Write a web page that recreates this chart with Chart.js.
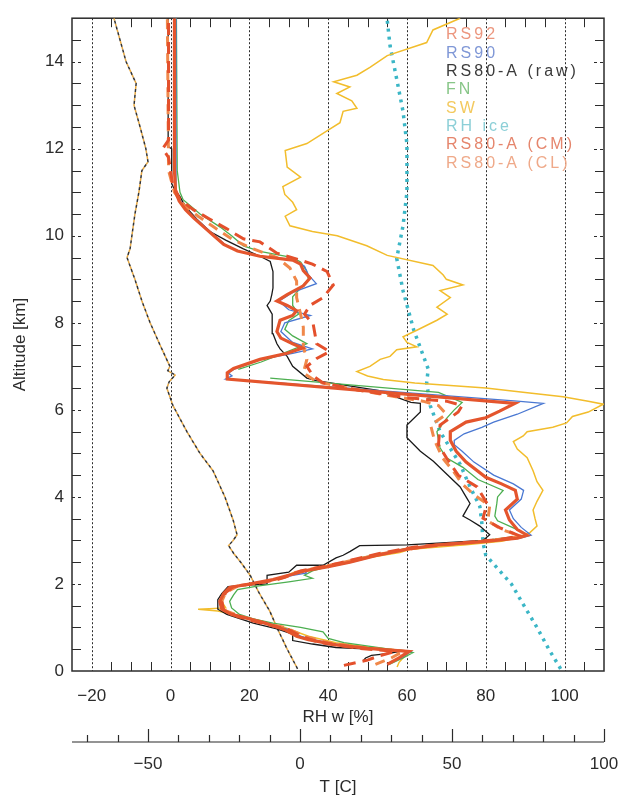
<!DOCTYPE html>
<html>
<head>
<meta charset="utf-8">
<title>RH profiles</title>
<script src="https://cdn.jsdelivr.net/npm/chart.js@4.4.1/dist/chart.umd.min.js"></script>
<style>
  html, body { margin: 0; padding: 0; background: #fff; }
</style>
</head>
<body>
<canvas id="rhChart" width="625" height="798"></canvas>
<script>
// ------- DATA -------
// axis ticks
const rhTicks = [-20, 0, 20, 40, 60, 80, 100];
const altTicks = [0, 2, 4, 6, 8, 10, 12, 14];
const tempTicks = [-50, 0, 50, 100];

const seriesNames = ['RS92', 'RS90', 'RS80-A (raw)', 'FN', 'SW', 'RH ice', 'RS80-A (CM)', 'RS80-A (CL)'];

// profiles as [altitude km, RH %]
const rs92 = [[0.15,55],[0.3,58],[0.45,60.5],[0.52,50],[0.6,42],[0.72,35],[0.8,32],[0.95,29],[1.1,24],[1.2,20],[1.3,15.5],[1.42,13],[1.6,12.5],[1.78,13.5],[1.92,15],[2.0,20],[2.1,26],[2.2,30],[2.3,34],[2.4,40],[2.5,45.5],[2.65,52],[2.8,60],[2.9,68],[2.98,80],[3.05,88],[3.12,90.5],[3.25,88],[3.47,86],[3.7,85],[3.95,88],[4.15,87.5],[4.3,84],[4.45,80],[4.8,75],[5.05,72.5],[5.3,71],[5.5,71],[5.72,75],[5.82,80],[5.97,83.5],[6.15,87.4],[6.71,14.4],[6.85,14.4],[6.95,16],[7.16,22.7],[7.3,29.6],[7.42,33.5],[7.52,31],[7.65,28],[7.8,27],[8.06,27.8],[8.17,31],[8.28,32],[8.4,29.6],[8.5,27],[8.65,29.6],[8.85,33.7],[9.03,35.4],[9.2,33.7],[9.35,33],[9.44,31],[9.53,22.7],[9.65,17],[9.8,13.5],[10.0,11],[10.2,8.5],[10.4,6],[10.6,3.8],[10.8,2.2],[11.0,1.3],[11.5,1.0],[13,1.0],[15,1.0]];

const rs90 = [[0.15,55],[0.3,58.5],[0.45,61],[0.52,50.5],[0.6,43],[0.72,36],[0.8,33],[0.95,30],[1.1,24.5],[1.2,20],[1.3,15.5],[1.42,13.2],[1.6,12.8],[1.78,13.8],[1.92,15.2],[2.0,20.5],[2.1,26.5],[2.2,31],[2.25,34.5],[2.3,34],[2.4,40.5],[2.5,46],[2.65,52.5],[2.8,60.5],[2.9,68.5],[2.98,80.5],[3.05,88.5],[3.12,91.5],[3.3,89],[3.5,87],[3.7,86],[3.95,89],[4.15,89.6],[4.3,87],[4.5,82],[4.8,77],[5.05,74],[5.2,72],[5.3,72],[5.45,74.5],[5.6,79],[5.72,82],[5.9,88],[6.15,94.6],[6.2,88],[6.71,14],[6.78,15.6],[6.85,14.6],[6.95,16.5],[7.16,23],[7.3,31],[7.4,36],[7.55,31],[7.8,28],[8.0,29],[8.17,35.5],[8.3,30],[8.5,27.5],[8.7,31],[8.9,37],[9.1,35],[9.3,34],[9.45,31],[9.53,22.7],[9.65,17.2],[9.8,13.8],[10.0,11.3],[10.2,8.8],[10.4,6.3],[10.6,4],[10.8,2.5],[11.0,1.6],[11.5,1.4],[13,1.4],[15,1.4]];

const rs80raw = [[0.25,49],[0.3,49.5],[0.36,51],[0.4,55],[0.47,59.5],[0.54,42],[0.62,36],[0.7,31],[0.85,31],[0.97,27],[1.1,21],[1.3,14.3],[1.42,12],[1.64,12],[1.78,13],[1.94,14.6],[2.0,24.5],[2.2,24.5],[2.27,30],[2.43,32],[2.43,38.7],[2.6,42],[2.66,43.8],[2.75,45.6],[2.88,48],[2.9,60],[2.95,70],[3.0,79.3],[3.13,81],[3.33,78.5],[3.47,76],[3.56,74.2],[3.85,76],[4.0,75],[4.23,73.5],[4.6,69.2],[4.82,66.7],[5.05,63.4],[5.36,60],[5.65,60],[5.95,63.4],[6.15,63.4],[6.17,61],[6.37,55],[6.44,53],[6.67,37],[6.73,34.6],[7.0,31],[7.23,29.6],[7.4,27.8],[7.52,27],[7.75,26],[8.2,25.8],[8.4,24.5],[8.5,25.3],[8.65,25.7],[8.8,26],[9.18,26],[9.41,25.3],[9.53,22.7],[9.7,18.5],[9.9,14],[10.1,10],[10.38,6.7],[10.6,4.5],[10.77,3.2],[10.9,2.4],[11.1,0.8],[11.2,0.3],[12.0,0.3],[12.05,-0.6],[15,-0.6]];

const fn = [[0.15,55.5],[0.3,59],[0.42,61.5],[0.55,52],[0.65,44],[0.75,40],[0.9,38.7],[1.0,33],[1.1,26],[1.2,21],[1.3,17.5],[1.45,15.5],[1.6,15],[1.75,16],[1.87,17],[1.95,22],[2.05,30],[2.13,36],[2.2,34],[2.3,36],[2.45,42],[2.6,48],[2.8,59],[2.9,68],[3.0,80],[3.13,90.5],[3.29,87],[3.45,83],[3.56,82.3],[3.85,82.8],[4.0,83],[4.15,84.4],[4.4,78],[4.68,74.2],[4.9,70],[5.13,68.4],[5.5,67.6],[5.8,70],[6.0,72],[6.17,74],[6.4,68],[6.73,25.3],null,[6.93,17.2],[7.1,23],[7.35,30],[7.52,34.6],[7.7,31],[7.85,29],[8.05,30],[8.2,32.5],[8.4,31],[8.6,31],[8.8,33],[9.0,35],[9.2,34.5],[9.4,33],[9.5,31],[9.64,22.7],[9.77,18.5],[10.0,15.5],[10.2,12.6],[10.5,7.5],[10.83,3.2],[11.0,2.4],[11.5,1.7],[15,1.5]];

const sw = [[0.09,57.5],[0.2,58],[0.3,59],[0.45,61],[0.55,50],[0.65,42],[0.8,35],[1.0,29],[1.15,23],[1.3,16],[1.38,12],[1.42,7],[1.45,14],[1.6,13],[1.8,14],[1.95,16],[2.0,21],[2.1,27],[2.25,31],[2.35,36],[2.5,44],[2.6,50],[2.72,58.2],[2.8,61],[2.9,75],[2.98,84],[3.08,89],[3.18,91.2],[3.33,93],[3.5,92.5],[3.7,92],[3.9,93],[4.15,94.5],[4.35,93],[4.6,92],[4.9,90.5],[5.1,88],[5.27,87],[5.4,89.5],[5.5,90.5],[5.6,97],[5.7,100.5],[5.85,102],[5.95,106],[6.13,109.8],[6.2,106],[6.3,99.6],[6.4,90],[6.5,80],[6.62,62],[6.7,54],[6.78,50],[6.88,47.3],[7.0,50.6],[7.16,53.2],[7.23,55.7],[7.38,57.4],[7.45,62.5],[7.55,60],[7.68,59],[7.83,62.5],[8.06,67.6],[8.2,70.2],[8.36,67.6],[8.58,71],[8.74,68.4],[8.87,74.2],[9.0,70],[9.1,69.2],[9.32,66.6],[9.55,55],[9.77,49.8],[10.0,42.3],[10.1,36],[10.23,30.3],[10.45,29.1],[10.6,32],[10.77,31],[10.95,29],[11.13,28.5],[11.35,33],[11.58,29.6],[11.96,29.1],[12.12,34.6],[12.41,39.7],[12.6,43],[12.86,43.8],[12.93,47.3],[13.1,46],[13.27,42.2],[13.42,45.5],[13.54,41.4],[13.69,47.3],[13.87,50.6],[14.14,55],[14.44,65],[14.73,66.6],[15.0,73.5]];

const rhIce = [[0.05,99],[0.5,96],[1.0,93],[1.5,89.7],[2.0,86.5],[2.66,80],[2.95,79.3],[3.4,79],[3.78,78.5],[4.23,76],[4.75,73.5],[5.5,68.4],[6.1,65.9],[6.62,65],[6.94,65.4],[7.84,61.7],[8.74,59],[9.48,57.4],[10.23,59],[11.0,60],[11.73,60],[12.1,60],[12.86,59],[13.6,57.4],[14.37,55.7],[14.95,55]];

const rs80cm = [[0.13,44],[0.25,50],[0.35,53],[0.45,57],[0.52,48],[0.65,38],[0.8,33],[0.95,30],[1.1,23],[1.25,17],[1.4,13.5],[1.6,13],[1.8,14],[1.95,16],[2.0,21],[2.1,27],[2.2,30.5],[2.3,33],[2.4,39],[2.55,46],[2.7,53],[2.85,62],[2.95,75],[3.03,84],[3.1,88.7],[3.29,83.6],[3.51,79.3],[3.85,80.3],[4.23,77.8],[4.5,73],[4.9,70],[5.2,68],[5.65,68.4],[5.95,73],[6.1,74],[6.2,70],[6.28,60],[6.45,48],[6.62,38.7],[6.78,36.2],[7.0,34.6],[7.18,37.1],[7.34,40.4],[7.52,37.1],[7.97,36.2],[8.2,34],[8.4,35.4],[8.58,38.7],[8.87,41.3],[9.18,39.7],[9.35,36],[9.44,33],[9.6,27],[9.86,22.7],[9.93,18.5],[10.16,14.3],[10.38,10],[10.6,5.8],[10.83,2.4],[11.2,0.5],[11.8,-0.5],[12.0,-2],[12.2,-0.5],[15,-0.5]];

const rs80cl = [[0.15,52],[0.3,56],[0.45,59],[0.55,48],[0.65,40],[0.8,34],[1.0,29],[1.1,24],[1.25,18],[1.4,13.5],[1.6,13],[1.8,14],[1.95,17],[2.05,24],[2.15,29],[2.25,31],[2.35,36],[2.5,44],[2.7,54],[2.85,64],[2.95,76],[3.05,86],[3.1,89],[3.25,84],[3.45,80.5],[3.8,81],[4.05,77],[4.3,74],[4.6,71.7],[4.9,69],[5.3,67],[5.65,66],[5.9,70],[6.1,68],[6.2,64],[6.35,54],[6.5,45],[6.65,37],[6.85,33.7],[7.16,34.6],[7.45,33.7],[7.9,33.7],[8.2,33],[8.58,32],[8.96,32],[9.26,30.3],[9.5,27],[9.7,21],[9.9,16],[10.2,11],[10.45,7],[10.7,3.5],[11.0,1],[11.5,-0.5],[15,-0.8]];

// temperature profile as [altitude km, T C]
const temperature = [[0.05,-0.8],[0.5,-4.2],[1.0,-7.6],[1.37,-9.9],[1.8,-13.5],[2.2,-16.4],[2.5,-19.5],[2.7,-21.8],[2.88,-23.5],[3.0,-22],[3.13,-20.7],[3.47,-22],[4.0,-24.7],[4.6,-28.6],[5.0,-32.9],[5.5,-37.2],[6.1,-41.8],[6.5,-43.8],[6.65,-43],[6.8,-41.1],[6.9,-43.5],[7.0,-42.8],[7.5,-46.1],[8.0,-49.3],[8.5,-52],[9.0,-54.3],[9.5,-56.9],[9.7,-55.9],[10.0,-55.3],[10.5,-54.3],[11.0,-53],[11.5,-52],[11.7,-50],[12.0,-50.7],[12.5,-52.6],[13.0,-54.6],[13.5,-53.9],[14.0,-57.2],[14.5,-59.2],[15.0,-61.2]];

// ------- HELPERS -------
const FONT = '"Liberation Sans", Arial, sans-serif';
const INK = '#2b2b2b';

function toPts(list) {
    return list.map(p => p ? { x: p[1], y: p[0] } : { x: null, y: null });
}

function fmt(v) {
    return v < 0 ? '\u2212' + Math.abs(v) : String(v);
}

function profile(name, list, color, legendColor, width, dash, order) {
    return {
        label: name,
        data: toPts(list),
        borderColor: color,
        borderWidth: width,
        borderDash: dash || [],
        showLine: true,
        pointRadius: 0,
        fill: false,
        spanGaps: false,
        order: order,
        legendColor: legendColor
    };
}

// frame, grid, minor ticks, temperature axis and text legend
const profileFrame = {
    id: 'profileFrame',
    beforeDraw(chart) {
        const ctx = chart.ctx;
        ctx.save();
        ctx.fillStyle = '#fff';
        ctx.fillRect(0, 0, chart.width, chart.height);
        ctx.restore();
    },
    beforeDatasetsDraw(chart) {
        const { ctx, chartArea: a, scales: { x, y } } = chart;
        const seg = (x1, y1, x2, y2) => { ctx.beginPath(); ctx.moveTo(x1, y1); ctx.lineTo(x2, y2); ctx.stroke(); };
        ctx.save();
        ctx.strokeStyle = INK;
        ctx.lineWidth = 1;

        // dotted verticals at the labelled RH values
        ctx.setLineDash([2, 2]);
        rhTicks.forEach(v => {
            const px = Math.round(x.getPixelForValue(v)) + 0.5;
            seg(px, a.top, px, a.bottom);
        });

        // major altitude ticks are short dashed marks
        ctx.setLineDash([3, 3]);
        altTicks.forEach(v => {
            if (v === 0) return;
            const py = Math.round(y.getPixelForValue(v)) + 0.5;
            seg(a.left, py, a.left + 10, py);
            seg(a.right - 10, py, a.right, py);
        });
        ctx.setLineDash([]);

        // minor ticks
        for (let v = -20; v < 110; v += 5) {
            if (v % 20 === 0) continue;
            const px = Math.round(x.getPixelForValue(v)) + 0.5;
            seg(px, a.bottom, px, a.bottom - 9);
            seg(px, a.top, px, a.top + 9);
        }
        for (let v = 0.5; v < 15; v += 0.5) {
            if (v % 2 === 0) continue;
            const py = Math.round(y.getPixelForValue(v)) + 0.5;
            seg(a.left, py, a.left + 9, py);
            seg(a.right - 9, py, a.right, py);
        }

        ctx.lineWidth = 1.5;
        ctx.strokeRect(a.left, a.top, a.right - a.left, a.bottom - a.top);
        ctx.restore();
    },
    afterDraw(chart) {
        const { ctx, chartArea: a } = chart;
        const t = chart.scales.x2;
        const seg = (x1, y1, x2, y2) => { ctx.beginPath(); ctx.moveTo(x1, y1); ctx.lineTo(x2, y2); ctx.stroke(); };
        const base = 742;

        ctx.save();
        // T axis
        ctx.strokeStyle = INK;
        ctx.lineWidth = 1.2;
        seg(a.left, base, a.right, base);
        for (let v = -70; v <= 100; v += 10) {
            const px = Math.round(t.getPixelForValue(v)) + 0.5;
            seg(px, base, px, base - (v % 50 === 0 ? 13 : 7));
        }
        ctx.fillStyle = INK;
        ctx.font = '17px ' + FONT;
        ctx.textAlign = 'center';
        ctx.textBaseline = 'middle';
        tempTicks.forEach(v => ctx.fillText(fmt(v), t.getPixelForValue(v), 764));
        ctx.fillText('T [C]', (a.left + a.right) / 2, 787);

        // legend: coloured names only
        ctx.font = '16px ' + FONT;
        ctx.textAlign = 'left';
        ctx.letterSpacing = '3px';
        let row = 0;
        chart.data.datasets.forEach(ds => {
            if (!ds.legendColor) return;
            ctx.fillStyle = ds.legendColor;
            ctx.fillText(ds.label, 446, 35 + row * 18.3);
            row++;
        });
        ctx.restore();
    }
};

// ------- CHART -------
const datasets = [
    profile(seriesNames[0], rs92, '#e4552d', '#ec967e', 3.2, [], 0),
    profile(seriesNames[1], rs90, '#4a78d2', '#7f97d6', 1.3, [], 3),
    profile(seriesNames[2], rs80raw, '#1a1a1a', '#3a3a3a', 1.3, [], 5),
    profile(seriesNames[3], fn, '#4caf50', '#88c688', 1.3, [], 4),
    profile(seriesNames[4], sw, '#f2bd2c', '#f3c95e', 1.5, [], 6),
    profile(seriesNames[5], rhIce, '#3bb6c6', '#8ccfd7', 3.5, [3, 5], 7),
    profile(seriesNames[6], rs80cm, '#e4502c', '#e5856c', 3, [12, 7], 1),
    profile(seriesNames[7], rs80cl, '#f0884a', '#efa989', 3, [10, 7], 2)
];

// temperature: black and orange dotted lines on top of each other
datasets.push({
    label: 'T',
    data: toPts(temperature),
    xAxisID: 'x2',
    borderColor: '#333333',
    borderWidth: 1.5,
    borderDash: [3, 3],
    showLine: true,
    pointRadius: 0,
    order: 8
});
datasets.push({
    label: 'T2',
    data: toPts(temperature),
    xAxisID: 'x2',
    borderColor: '#e8a840',
    borderWidth: 1.5,
    borderDash: [3, 3],
    borderDashOffset: 3,
    showLine: true,
    pointRadius: 0,
    order: 8
});

const rhChart = new Chart(document.getElementById('rhChart'), {
    type: 'scatter',
    data: { datasets },
    options: {
        responsive: false,
        animation: false,
        devicePixelRatio: 1,
        layout: { padding: { top: 5, right: 21, bottom: 70, left: 0 } },
        plugins: {
            legend: { display: false },
            tooltip: { enabled: false }
        },
        scales: {
            x: {
                type: 'linear',
                position: 'bottom',
                min: -25,
                max: 110,
                afterBuildTicks: axis => { axis.ticks = rhTicks.map(value => ({ value })); },
                afterFit: axis => { axis.height = 57; },
                grid: { display: false, drawTicks: false, tickLength: 0 },
                border: { display: false },
                ticks: {
                    autoSkip: false,
                    maxRotation: 0,
                    padding: 15,
                    color: INK,
                    font: { family: FONT, size: 17 },
                    callback: v => fmt(v)
                },
                title: {
                    display: true,
                    text: 'RH w [%]',
                    color: INK,
                    font: { family: FONT, size: 17 },
                    padding: { top: 0, bottom: 0 }
                }
            },
            x2: {
                type: 'linear',
                position: 'bottom',
                min: -75,
                max: 100,
                display: false
            },
            y: {
                type: 'linear',
                min: 0,
                max: 15,
                afterBuildTicks: axis => { axis.ticks = altTicks.map(value => ({ value })); },
                afterFit: axis => { axis.width = 72; },
                grid: { display: false, drawTicks: false, tickLength: 0 },
                border: { display: false },
                ticks: {
                    autoSkip: false,
                    padding: 8,
                    color: INK,
                    font: { family: FONT, size: 17 },
                    callback: v => String(v)
                },
                title: {
                    display: true,
                    text: 'Altitude [km]',
                    color: INK,
                    font: { family: FONT, size: 17 },
                    padding: { top: 10, bottom: 0 }
                }
            }
        }
    },
    plugins: [profileFrame]
});
</script>
</body>
</html>
